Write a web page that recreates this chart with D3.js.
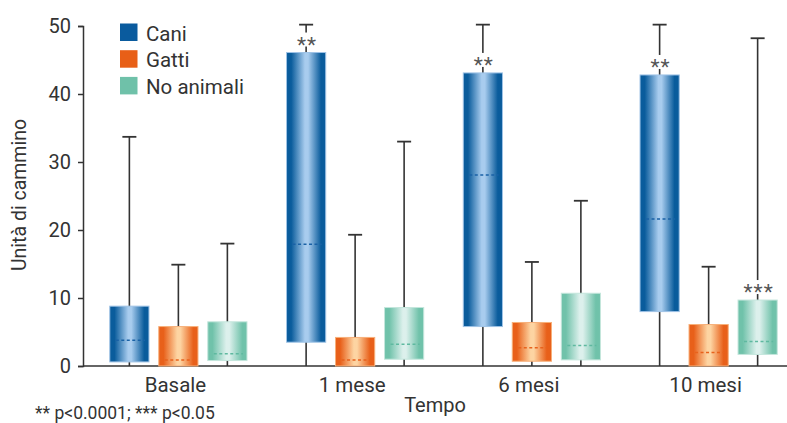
<!DOCTYPE html>
<html>
<head>
<meta charset="utf-8">
<script src="https://cdn.jsdelivr.net/npm/d3@7"></script>
<style>
  body { margin: 0; background: #fff; }
  svg { display: block; font-family: Roboto, "Liberation Sans", sans-serif; font-weight: 400; }
</style>
</head>
<body>
<svg id="chart"></svg>
<script>
// data
const categories = ['Basale', '1 mese', '6 mesi', '10 mesi'];
const series = ['Cani', 'Gatti', 'No animali'];
const yTicks = [0, 10, 20, 30, 40, 50];

const caniMax = [33.7, 50.2, 50.2, 50.2];
const caniQ3 = [8.8, 46.1, 43.1, 42.8];
const caniMedian = [3.8, 17.9, 28.1, 21.6];
const caniQ1 = [0.6, 3.5, 5.8, 8.0];
const caniMin = [0, 0, 0, 0];
const caniStars = ['', '**', '**', '**'];

const gattiMax = [14.9, 19.3, 15.3, 14.6];
const gattiQ3 = [5.8, 4.2, 6.4, 6.1];
const gattiMedian = [0.9, 0.9, 2.7, 2.0];
const gattiQ1 = [0, 0, 0.7, 0];
const gattiMin = [0, 0, 0, 0];
const gattiStars = ['', '', '', ''];

const noAnimaliMax = [18.0, 33.0, 24.3, 48.2];
const noAnimaliQ3 = [6.5, 8.6, 10.7, 9.7];
const noAnimaliMedian = [1.8, 3.2, 3.0, 3.6];
const noAnimaliQ1 = [0.8, 1.0, 0.9, 1.7];
const noAnimaliMin = [0, 0, 0, 0];
const noAnimaliStars = ['', '', '', '***'];

const footnote = '** p<0.0001; *** p<0.05';

class boxChart {

    constructor(config, data) {
        this.config = {
            parent: config.parent,
            width: config.width || 787,
            height: config.height || 423
        };
        this.data = data;
        this.init();
    }

    init() {
        let self = this;

        self.svg = d3.select(self.config.parent)
            .attr('width', self.config.width)
            .attr('height', self.config.height);

        self.x = d3.scaleBand()
            .domain(categories)
            .range([90, 797]);
        self.xs = d3.scaleBand()
            .domain(series)
            .range([-73.5, 73.5])
            .paddingInner(0.2)
            .paddingOuter(0.1);
        self.y = d3.scaleLinear()
            .domain([0, 50])
            .range([366, 26]);

        self.style = {
            'Cani': { legend: '#0a5b9e', edge: '#0a5c9c', mid: '#a8ccee', stroke: '#9fc3e6', dash: '#1a62a6' },
            'Gatti': { legend: '#e85f17', edge: '#e8601a', mid: '#fdd4a2', stroke: '#f7b07a', dash: '#e8621c' },
            'No animali': { legend: '#6fc1a9', edge: '#70c2aa', mid: '#dcf0ec', stroke: '#c4e6dc', dash: '#5fb9a0' }
        };
    }

    render() {
        let self = this;
        let x = self.x, xs = self.xs, y = self.y;

        // gradients, dark at the sides and light in the middle
        let defs = self.svg.append('defs');
        series.forEach((s, i) => {
            let st = self.style[s];
            let grad = defs.append('linearGradient')
                .attr('id', 'grad' + i)
                .attr('x1', 0).attr('x2', 1).attr('y1', 0).attr('y2', 0);
            [[0, st.edge], [0.12, st.edge], [0.47, st.mid], [0.55, st.mid], [0.88, st.edge], [1, st.edge]]
                .forEach(d => grad.append('stop').attr('offset', d[0]).attr('stop-color', d[1]));
        });

        // axes
        let yAxis = self.svg.append('g')
            .attr('transform', 'translate(83,0)')
            .call(d3.axisLeft(y).tickValues(yTicks).tickSize(5).tickSizeOuter(5).tickPadding(7));
        yAxis.selectAll('path, line').attr('stroke', '#333').attr('stroke-width', 1.5);
        yAxis.selectAll('text').attr('font-size', 20).attr('fill', '#333')
            .attr('font-family', 'Roboto');

        let xAxis = self.svg.append('g')
            .attr('transform', `translate(0,${y(0)})`)
            .call(d3.axisBottom(x).tickSize(0).tickPadding(11));
        xAxis.select('.domain').remove();
        xAxis.selectAll('text').attr('font-size', 20.5).attr('fill', '#333').attr('dx', -3)
            .attr('font-family', 'Roboto');
        self.svg.append('line')
            .attr('x1', 83).attr('x2', 787)
            .attr('y1', y(0)).attr('y2', y(0))
            .attr('stroke', '#333').attr('stroke-width', 1.5);

        // boxes
        series.forEach((s, si) => {
            let d = self.data[s];
            let st = self.style[s];
            let g = self.svg.append('g');
            categories.forEach((c, ci) => {
                let left = x(c) + x.bandwidth() / 2 + xs(s);
                let w = xs.bandwidth();
                let cx = left + w / 2;

                g.append('line')
                    .attr('x1', cx).attr('x2', cx)
                    .attr('y1', y(d.min[ci])).attr('y2', y(d.max[ci]))
                    .attr('stroke', '#333').attr('stroke-width', 1.6);
                g.append('line')
                    .attr('x1', cx - 7).attr('x2', cx + 7)
                    .attr('y1', y(d.max[ci])).attr('y2', y(d.max[ci]))
                    .attr('stroke', '#333').attr('stroke-width', 1.8);

                g.append('rect')
                    .attr('x', left).attr('width', w)
                    .attr('y', y(d.q3[ci]))
                    .attr('height', y(d.q1[ci]) - y(d.q3[ci]))
                    .attr('fill', `url(#grad${si})`)
                    .attr('stroke', st.stroke).attr('stroke-width', 1);

                g.append('line')
                    .attr('x1', left + 6).attr('x2', left + w - 4)
                    .attr('y1', y(d.median[ci])).attr('y2', y(d.median[ci]))
                    .attr('stroke', st.dash).attr('stroke-width', 1.5)
                    .attr('stroke-dasharray', '3 2.5');

                if (d.stars[ci]) {
                    // stars sit in a gap of the whisker
                    let sy = y(d.q3[ci]) - 13;
                    let n = d.stars[ci].length;
                    g.append('rect')
                        .attr('x', cx - 6 * n).attr('width', 12 * n)
                        .attr('y', sy - 7).attr('height', 14)
                        .attr('fill', '#fff');
                    g.append('text')
                        .attr('x', cx + 1).attr('y', sy + 12)
                        .attr('text-anchor', 'middle')
                        .attr('font-size', 21)
                        .attr('letter-spacing', 1)
                        .attr('fill', '#555')
                        .text(d.stars[ci]);
                }
            });
        });

        // legend
        let legend = self.svg.selectAll('.legend')
            .data(series)
            .enter()
            .append('g')
            .attr('class', 'legend')
            .attr('transform', (d, i) => `translate(120, ${23.5 + i * 26.7})`);
        legend.append('rect')
            .attr('width', 17.5)
            .attr('height', 17.5)
            .style('fill', d => self.style[d].legend);
        legend.append('text')
            .attr('x', 26)
            .attr('y', 17)
            .attr('font-size', 20.5)
            .attr('fill', '#333')
            .text(d => d);

        // titles
        self.svg.append('text')
            .attr('transform', 'translate(26,195) rotate(-90)')
            .attr('text-anchor', 'middle')
            .attr('font-size', 19.5)
            .attr('fill', '#333')
            .text('Unità di cammino');
        self.svg.append('text')
            .attr('x', 435).attr('y', 412)
            .attr('text-anchor', 'middle')
            .attr('font-size', 20)
            .attr('fill', '#333')
            .text('Tempo');
        self.svg.append('text')
            .attr('x', 35).attr('y', 419)
            .attr('font-size', 17.5)
            .attr('fill', '#333')
            .text(footnote);
    }
}

let chart = new boxChart({ parent: '#chart', width: 787, height: 423 }, {
    'Cani': { min: caniMin, q1: caniQ1, median: caniMedian, q3: caniQ3, max: caniMax, stars: caniStars },
    'Gatti': { min: gattiMin, q1: gattiQ1, median: gattiMedian, q3: gattiQ3, max: gattiMax, stars: gattiStars },
    'No animali': { min: noAnimaliMin, q1: noAnimaliQ1, median: noAnimaliMedian, q3: noAnimaliQ3, max: noAnimaliMax, stars: noAnimaliStars }
});
chart.render();
</script>
</body>
</html>
